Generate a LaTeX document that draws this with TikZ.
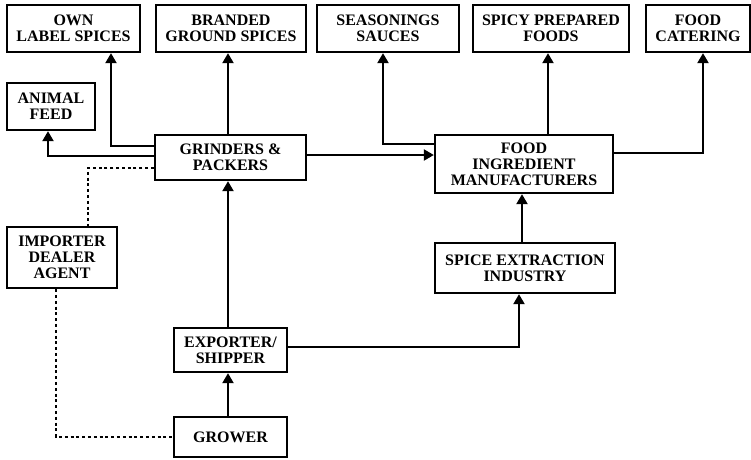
\documentclass[tikz,border=0pt]{standalone}
\usepackage{fontspec}
\setmainfont{Liberation Serif}
\usetikzlibrary{arrows.meta}
\begin{document}
\begin{tikzpicture}[x=1pt,y=-1pt,
  box/.style={draw,line width=2.3pt,inner sep=0pt,align=center,
    font=\fontsize{16pt}{16pt}\selectfont\bfseries},
  arr/.style={line width=2.1pt,-{Triangle[width=11pt,length=10pt]}},
  dotline/.style={line width=2.1pt,dash pattern=on 3pt off 2.8pt}]
\useasboundingbox (0,0) rectangle (751,459);
\node[box,minimum width=133pt,minimum height=47pt] (own) at (73.5,28.5) {OWN\\LABEL SPICES};
\node[box,minimum width=150pt,minimum height=47pt] (brand) at (231,28.5) {BRANDED\\GROUND SPICES};
\node[box,minimum width=142pt,minimum height=47pt] (seas) at (388,28.5) {SEASONINGS\\SAUCES};
\node[box,minimum width=156pt,minimum height=47pt] (spicy) at (551,28.5) {SPICY PREPARED\\FOODS};
\node[box,minimum width=104pt,minimum height=47pt] (cater) at (698,28.5) {FOOD\\CATERING};
\node[box,minimum width=88pt,minimum height=47pt] (feed) at (51,106.5) {ANIMAL\\FEED};
\node[box,minimum width=151pt,minimum height=45pt] (grind) at (230.5,157.5) {GRINDERS \&\\PACKERS};
\node[box,minimum width=178pt,minimum height=58pt] (fim) at (524,164) {FOOD\\INGREDIENT\\MANUFACTURERS};
\node[box,minimum width=110pt,minimum height=61pt] (imp) at (62,257.5) {IMPORTER\\DEALER\\AGENT};
\node[box,minimum width=180pt,minimum height=50pt] (spext) at (525,268) {SPICE EXTRACTION\\INDUSTRY};
\node[box,minimum width=113pt,minimum height=44pt] (exp) at (230.5,350) {EXPORTER/\\SHIPPER};
\node[box,minimum width=113pt,minimum height=40pt] (grow) at (230.5,437) {GROWER};
% connectors
\coordinate (g0) at ([yshift=11.5pt]grind.west);
\coordinate (g2) at ([yshift=1.5pt]grind.west);
\coordinate (g3) at ([yshift=-10.5pt]grind.west);
\coordinate (g1) at ([yshift=2.5pt]grind.east);
\coordinate (f1) at ([yshift=20pt]fim.west);
\coordinate (f2) at ([xshift=24pt]fim.north);
\coordinate (f3) at ([yshift=11pt]fim.east);
\coordinate (e1) at ([yshift=3pt]exp.east);
\draw[arr] (g0) -| ([xshift=37.5pt]own.south);
\draw[arr] (g2) -| ([xshift=-3pt]feed.south);
\draw[arr] ([xshift=-2.5pt]grind.north) -- ([xshift=-2.5pt]grind.north |- brand.south);
\draw[arr] (g1) -- (g1 -| fim.west);
\draw[arr] (f1) -| ([xshift=-5pt]seas.south);
\draw[arr] (f2) -- (f2 |- spicy.south);
\draw[arr] (f3) -| ([xshift=5pt]cater.south);
\draw[arr] ([xshift=-3pt]spext.north) -- ([xshift=-3pt]spext.north |- fim.south);
\draw[arr] (e1) -| ([xshift=-6pt]spext.south);
\draw[arr] ([xshift=-2.5pt]exp.north) -- ([xshift=-2.5pt]exp.north |- grind.south);
\draw[arr] ([xshift=-2.5pt]grow.north) -- ([xshift=-2.5pt]grow.north |- exp.south);
\draw[dotline] (g3) -| ([xshift=26pt]imp.north);
\draw[dotline] ([xshift=-6pt]imp.south) |- (grow.west);
\end{tikzpicture}
\end{document}
